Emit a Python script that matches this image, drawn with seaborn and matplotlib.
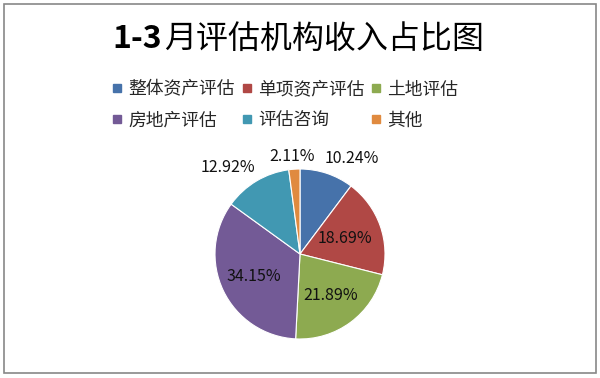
import numpy as np
import matplotlib
matplotlib.use("Agg")
import matplotlib.pyplot as plt
import seaborn as sns
from matplotlib.lines import Line2D
from matplotlib.patches import Rectangle

sns.set_theme(style="white")
plt.rcParams['font.family'] = ['Noto Sans CJK SC', 'DejaVu Sans']

# ---- data ----
title_num = "1-3"
title_rest = "月评估机构收入占比图"
categories = ["整体资产评估", "单项资产评估", "土地评估", "房地产评估", "评估咨询", "其他"]
values = [10.24, 18.69, 21.89, 34.15, 12.92, 2.11]
colors = ["#4672AA", "#B04845", "#8DAA50", "#735A96", "#4198B2", "#E08A3F"]

# label placement styling (radius factor, angle offset in degrees)
label_r = [1.28, 0.56, 0.6, 0.6, 1.32, 1.15]
label_dang = [-10, 0, 0, 0, 9, 1]

fig = plt.figure(figsize=(6.0, 3.78), dpi=100)

# outer border
fig.add_artist(Rectangle((4/600, 5/378), 592/600, 369/378, transform=fig.transFigure,
                         fill=False, edgecolor="#888888", linewidth=1.2))

# pie axes: center (300,254) px, radius 85 px
R = 85
ax = fig.add_axes([(300 - R) / 600, (378 - 254 - R) / 378, 2 * R / 600, 2 * R / 378])
pal = sns.color_palette(colors)
wedges, _ = ax.pie(values, colors=pal, startangle=90, counterclock=False,
                   radius=1.0, wedgeprops=dict(edgecolor="white", linewidth=0.8))
ax.set_xlim(-1, 1)
ax.set_ylim(-1, 1)
ax.set_aspect("equal")
ax.axis("off")

for w, v, r, da in zip(wedges, values, label_r, label_dang):
    mid = np.deg2rad((w.theta1 + w.theta2) / 2 + da)
    ax.text(r * np.cos(mid), r * np.sin(mid), f"{v:.2f}%", ha="center", va="center",
            fontsize=11.5, color="#111111")

# title
t1 = fig.text(0.19, 1 - 39 / 378, title_num, fontsize=23, fontweight="bold",
              ha="left", va="center", color="black")
t2 = fig.text(0.3, 1 - 39 / 378, title_rest, fontsize=23, fontweight="normal",
              ha="left", va="center", color="black")
fig.canvas.draw()
rend = fig.canvas.get_renderer()
b1 = t1.get_window_extent(rend)
b2 = t2.get_window_extent(rend)
gap = 2
total = b1.width + gap + b2.width
x0 = 298 - total / 2
t1.set_x(x0 / 600)
t2.set_x((x0 + b1.width + gap) / 600)

# legend (row-major order)
handles = [Line2D([0], [0], marker="s", linestyle="none", markersize=6.2,
                  markerfacecolor=c, markeredgecolor=c) for c in colors]
order = [0, 3, 1, 4, 2, 5]
leg = fig.legend([handles[i] for i in order], [categories[i] for i in order],
                 ncol=3, loc="center left", bbox_to_anchor=(113 / 600, 1 - 105 / 378),
                 frameon=False, fontsize=12.8, handlelength=0.45, handletextpad=0.4,
                 columnspacing=0.45, labelspacing=0.72, borderaxespad=0, borderpad=0)

fig.savefig("out.png", dpi=100)
